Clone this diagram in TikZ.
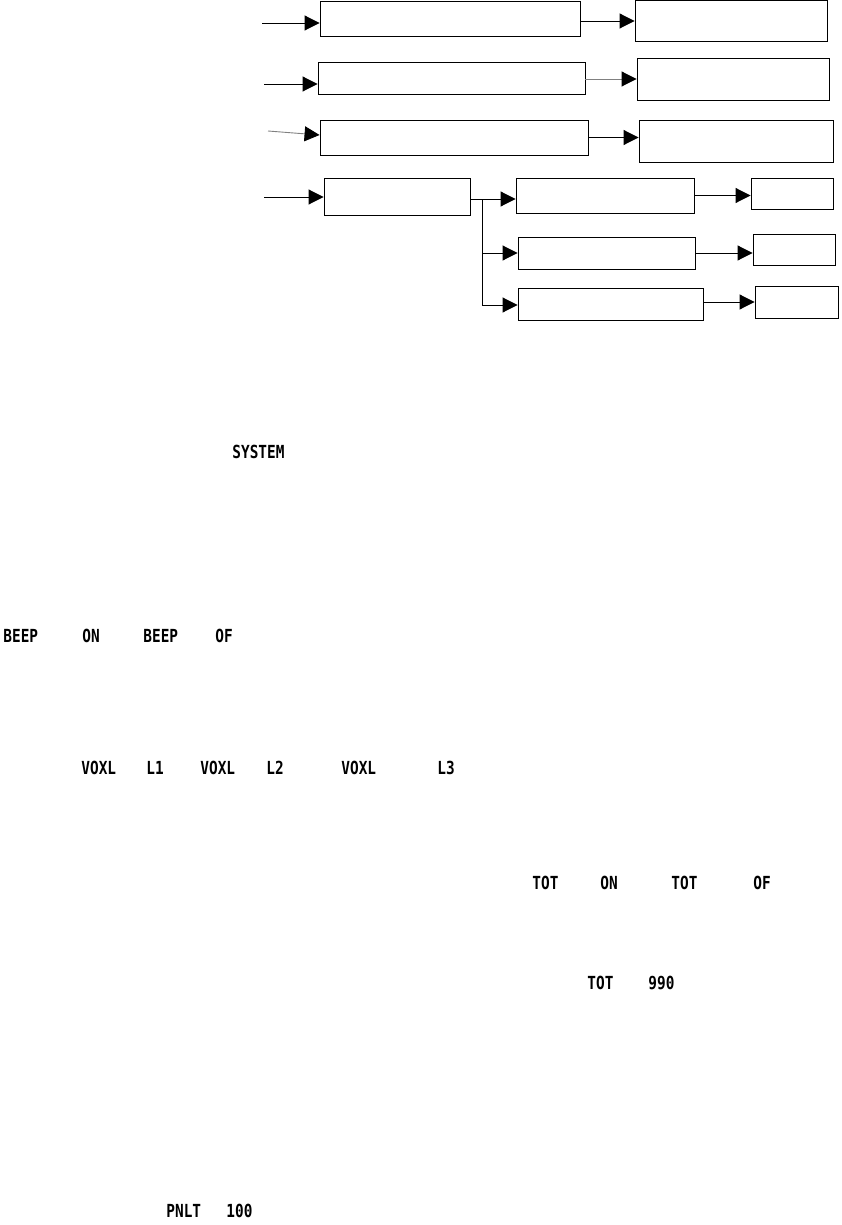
\documentclass[tikz,border=0pt]{standalone}
\usepackage{fontspec}
\newfontfamily\lcdfont[FakeStretch=0.8]{DejaVu Sans Mono}
\usetikzlibrary{arrows.meta}

\begin{document}
\begin{tikzpicture}[x=1pt, y=-1pt, line width=0.9pt,
    blk/.style={draw, rectangle, inner sep=0pt},
    arr/.style={-{Triangle[length=15pt, width=15pt, color=black]}},
    lcd/.style={anchor=west, inner sep=0pt, font=\lcdfont\bfseries\fontsize{18}{20}\selectfont}]
    \useasboundingbox (0,0) rectangle (841,1225);

    % Boxes, first column
    \node[blk, minimum width=260pt, minimum height=35pt] (A1) at (450,18.5) {};
    \node[blk, minimum width=267pt, minimum height=32pt] (A2) at (451.5,78) {};
    \node[blk, minimum width=268pt, minimum height=35pt] (A3) at (454,137.5) {};
    \node[blk, minimum width=146pt, minimum height=37pt] (A4) at (397,196.5) {};

    % Boxes, second column
    \node[blk, minimum width=192pt, minimum height=41pt] (B1) at (731,21) {};
    \node[blk, minimum width=192pt, minimum height=42pt] (B2) at (733,79) {};
    \node[blk, minimum width=194pt, minimum height=42pt] (B3) at (736,141) {};
    \node[blk, minimum width=178pt, minimum height=35pt] (C1) at (605,195.5) {};
    \node[blk, minimum width=177pt, minimum height=32pt] (C2) at (606.5,253) {};
    \node[blk, minimum width=185pt, minimum height=32pt] (C3) at (610.5,304) {};

    % Small boxes on the right
    \node[blk, minimum width=82pt, minimum height=31pt] (D1) at (792,193.5) {};
    \node[blk, minimum width=82pt, minimum height=31pt] (D2) at (794,249.5) {};
    \node[blk, minimum width=83pt, minimum height=32pt] (D3) at (796.5,302) {};

    % Inputs
    \coordinate (in1) at (262,23);
    \coordinate (in2) at (264,84);
    \coordinate (in3) at (268,131);
    \coordinate (in4) at (264,197);
    \coordinate (br) at (482,199);

    \draw[arr] (in1) -- (in1 -| A1.west);
    \draw[arr] (in2) -- (in2 -| A2.west);
    \draw[arr, gray] (in3) -- ([yshift=2.5pt]A3.west);
    \draw[arr] (in4) -- (in4 -| A4.west);

    % Row connectors
    \draw[arr] (A1.east |- B1.west) -- (B1.west);
    \draw[arr, gray] (A2.east |- B2.west) -- (B2.west);
    \draw[arr] (A3.east) -- (A3.east -| B3.west);

    % Branch
    \draw[arr] (A4.east |- br) -- (br -| C1.west);
    \draw (br) -- ([yshift=-106pt]br) coordinate (brEnd);
    \draw[arr] (br |- C2.west) -- (C2.west);
    \draw[arr] (brEnd) -- (brEnd -| C3.west);

    \draw[arr] (C1.east) -- (C1.east -| D1.west);
    \draw[arr] (C2.east) -- (C2.east -| D2.west);
    \draw[arr] (D3.west -| C3.east) -- (D3.west);

    % Display texts
    \node[lcd] (sys) at (232,452) {SYSTEM};

    \node[lcd] (beep1) at (3,636) {BEEP};
    \node[lcd] (on1) at (82,636) {ON};
    \node[lcd] (beep2) at (143,636) {BEEP};
    \node[lcd] (of1) at (215,636) {OF};

    \node[lcd] (vox1) at (81,768) {VOXL};
    \node[lcd] (lv1) at (146,768) {L1};
    \node[lcd] (vox2) at (200,768) {VOXL};
    \node[lcd] (lv2) at (266,768) {L2};
    \node[lcd] (vox3) at (341,768) {VOXL};
    \node[lcd] (lv3) at (437,768) {L3};

    \node[lcd] (tot1) at (532,883) {TOT};
    \node[lcd] (on2) at (600,883) {ON};
    \node[lcd] (tot2) at (671,883) {TOT};
    \node[lcd] (of2) at (753,883) {OF};

    \node[lcd] (tot3) at (587,983) {TOT};
    \node[lcd] (val) at (648,983) {990};

    \node[lcd] (pnlt) at (166,1211) {PNLT};
    \node[lcd] (pval) at (226,1211) {100};
\end{tikzpicture}
\end{document}
